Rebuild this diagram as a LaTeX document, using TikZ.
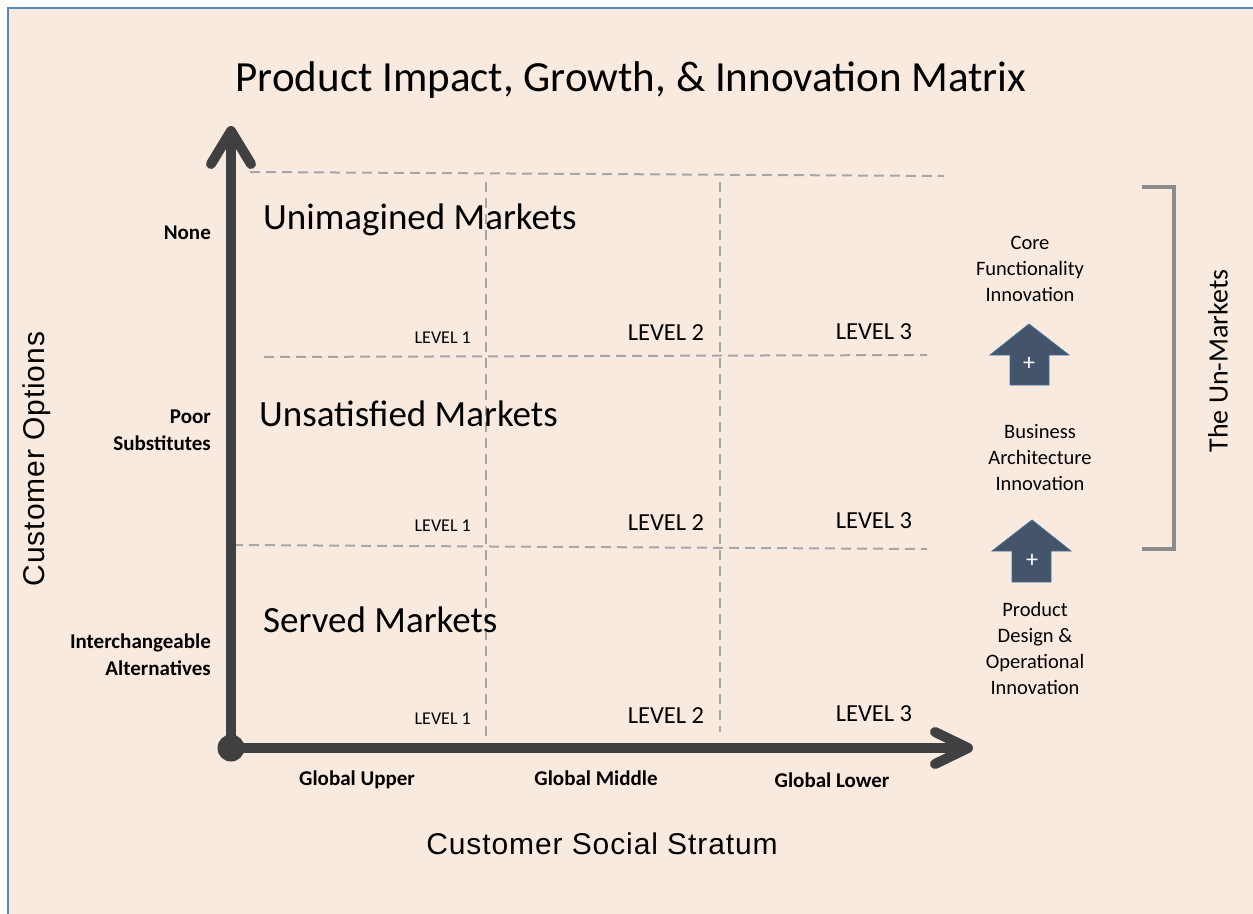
\documentclass[tikz,border=0pt]{standalone}
\usepackage{fontspec}
\setmainfont{Carlito}
\newfontfamily\arialfont{Liberation Sans}
\usetikzlibrary{calc}
\definecolor{paper}{HTML}{F9EAE0}
\definecolor{frame}{HTML}{5B86B8}
\definecolor{axis}{HTML}{404040}
\definecolor{grid}{HTML}{A6A6A6}
\definecolor{slate}{HTML}{44546A}
\definecolor{slateline}{HTML}{41719C}
\definecolor{brack}{HTML}{8C8C8C}
\tikzset{
  axisline/.style={draw=axis, line width=10pt},
  axishead/.style={draw=axis, line width=10pt, line cap=round, line join=round},
  gridline/.style={draw=grid, line width=2pt, dash pattern=on 10pt off 6pt},
  market/.style={font=\fontsize{37}{44}\selectfont, anchor=west, inner sep=0pt},
  lvlsmall/.style={font=\fontsize{18}{20}\selectfont, anchor=east, inner sep=0pt},
  lvlbig/.style={font=\fontsize{24.5}{28}\selectfont, inner sep=0pt},
  ylab/.style={font=\bfseries\fontsize{21}{27}\selectfont, align=right, anchor=east, inner sep=0pt},
  xlab/.style={font=\bfseries\fontsize{21}{24}\selectfont, inner sep=0pt},
  sidetext/.style={font=\fontsize{20.5}{26}\selectfont, align=center, inner sep=0pt},
  plussign/.style={white, font=\fontsize{24}{26}\selectfont, inner sep=0pt},
  uparrow/.style={fill=slate, draw=slateline, line width=0.8pt},
  bracket/.style={draw=brack, line width=4pt},
  axistitle/.style={font=\arialfont\addfontfeatures{LetterSpace=3}\fontsize{30}{34}\selectfont, inner sep=0pt},
}
\begin{document}
\begin{tikzpicture}[x=1pt,y=-1pt]
\useasboundingbox (0,0) rectangle (1253,913);
% page background and frame
\fill[white] (0,0) rectangle (1253,913);
\fill[paper] (8,8) rectangle (1260,920);
\draw[frame, line width=1.5pt] (8,920) -- (8,8) -- (1260,8);

% title
\node[font=\fontsize{43}{50}\selectfont, inner sep=0pt] (title) at (631,80) {Product Impact, Growth, \& Innovation Matrix};

% grid of dashed lines
\coordinate (h1a) at (250,172); \coordinate (h1b) at (944,176);
\coordinate (h2a) at (264,357); \coordinate (h2b) at (927,355);
\coordinate (h3a) at (233,545); \coordinate (h3b) at (927,549);
\coordinate (v1a) at (486,182); \coordinate (v1b) at (486,740);
\coordinate (v2a) at (720,182); \coordinate (v2b) at (720,732);
\draw[gridline] (h1a) -- (h1b);
\draw[gridline] (h2a) -- (h2b);
\draw[gridline] (h3a) -- (h3b);
\draw[gridline] (v1a) -- (v1b);
\draw[gridline] (v2a) -- (v2b);

% axes
\coordinate (origin) at (231,748);
\coordinate (ytip) at (231,131);
\coordinate (xtip) at (968,748);
\draw[axisline] (origin) -- (ytip);
\draw[axisline] (origin) -- (xtip);
\draw[axishead] ($(ytip)+(-20,33)$) -- (ytip) -- ($(ytip)+(20,33)$);
\draw[axishead] ($(xtip)+(-33,-16)$) -- (xtip) -- ($(xtip)+(-33,16)$);
\fill[axis] (origin) circle (13.5);

% market names
\node[market] (unimagined) at (263,220) {Unimagined Markets};
\node[market] (unsatisfied) at (259,414) {Unsatisfied Markets};
\node[market] (served) at (263,620) {Served Markets};

% level labels
\node[lvlsmall] (l1a) at (471,338) {LEVEL 1};
\node[lvlsmall] (l1b) at (471,526) {LEVEL 1};
\node[lvlsmall] (l1c) at (471,719) {LEVEL 1};
\node[lvlbig] (l2a) at (666,333) {LEVEL 2};
\node[lvlbig] (l2b) at (666,523) {LEVEL 2};
\node[lvlbig] (l2c) at (666,716) {LEVEL 2};
\node[lvlbig] (l3a) at (874,332) {LEVEL 3};
\node[lvlbig] (l3b) at (874,521) {LEVEL 3};
\node[lvlbig] (l3c) at (874,714) {LEVEL 3};

% vertical axis categories
\node[ylab] (none) at (211,233) {None};
\node[ylab] (poor) at (211,430) {Poor\\Substitutes};
\node[ylab] (inter) at (211,655) {Interchangeable\\Alternatives};

% horizontal axis categories
\node[xlab] (gup) at (357,780) {Global Upper};
\node[xlab] (gmid) at (596,778) {Global Middle};
\node[xlab] (glow) at (832,780) {Global Lower};

% axis titles
\node[axistitle] (xtitle) at (602,844) {Customer Social Stratum};
\node[axistitle, rotate=90] (ytitle) at (37,459) {Customer Options};

% innovation ladder
\node[sidetext] (core) at (1030,269) {Core\\Functionality\\Innovation};
\node[sidetext] (business) at (1040,458) {Business\\Architecture\\Innovation};
\node[sidetext] (product) at (1035,648) {Product\\Design \&\\Operational\\Innovation};

\draw[uparrow] (1029,324) -- (1069,355) -- (1049,355) -- (1049,385) -- (1010,385) -- (1010,355) -- (990,355) -- cycle;
\node[plussign] (plus1) at (1029,364) {+};
\draw[uparrow] (1032,520) -- (1071,551) -- (1051,551) -- (1051,582) -- (1012,582) -- (1012,551) -- (992,551) -- cycle;
\node[plussign] (plus2) at (1032,561) {+};

% bracket for the un-markets
\coordinate (bt) at (1142,187);
\coordinate (bb) at (1142,549);
\draw[bracket] (bt) -- (1174,187) -- (1174,549) -- (bb);
\node[font=\fontsize{28}{32}\selectfont, rotate=90, inner sep=0pt] (unm) at (1218,361) {The Un-Markets};
\end{tikzpicture}
\end{document}
